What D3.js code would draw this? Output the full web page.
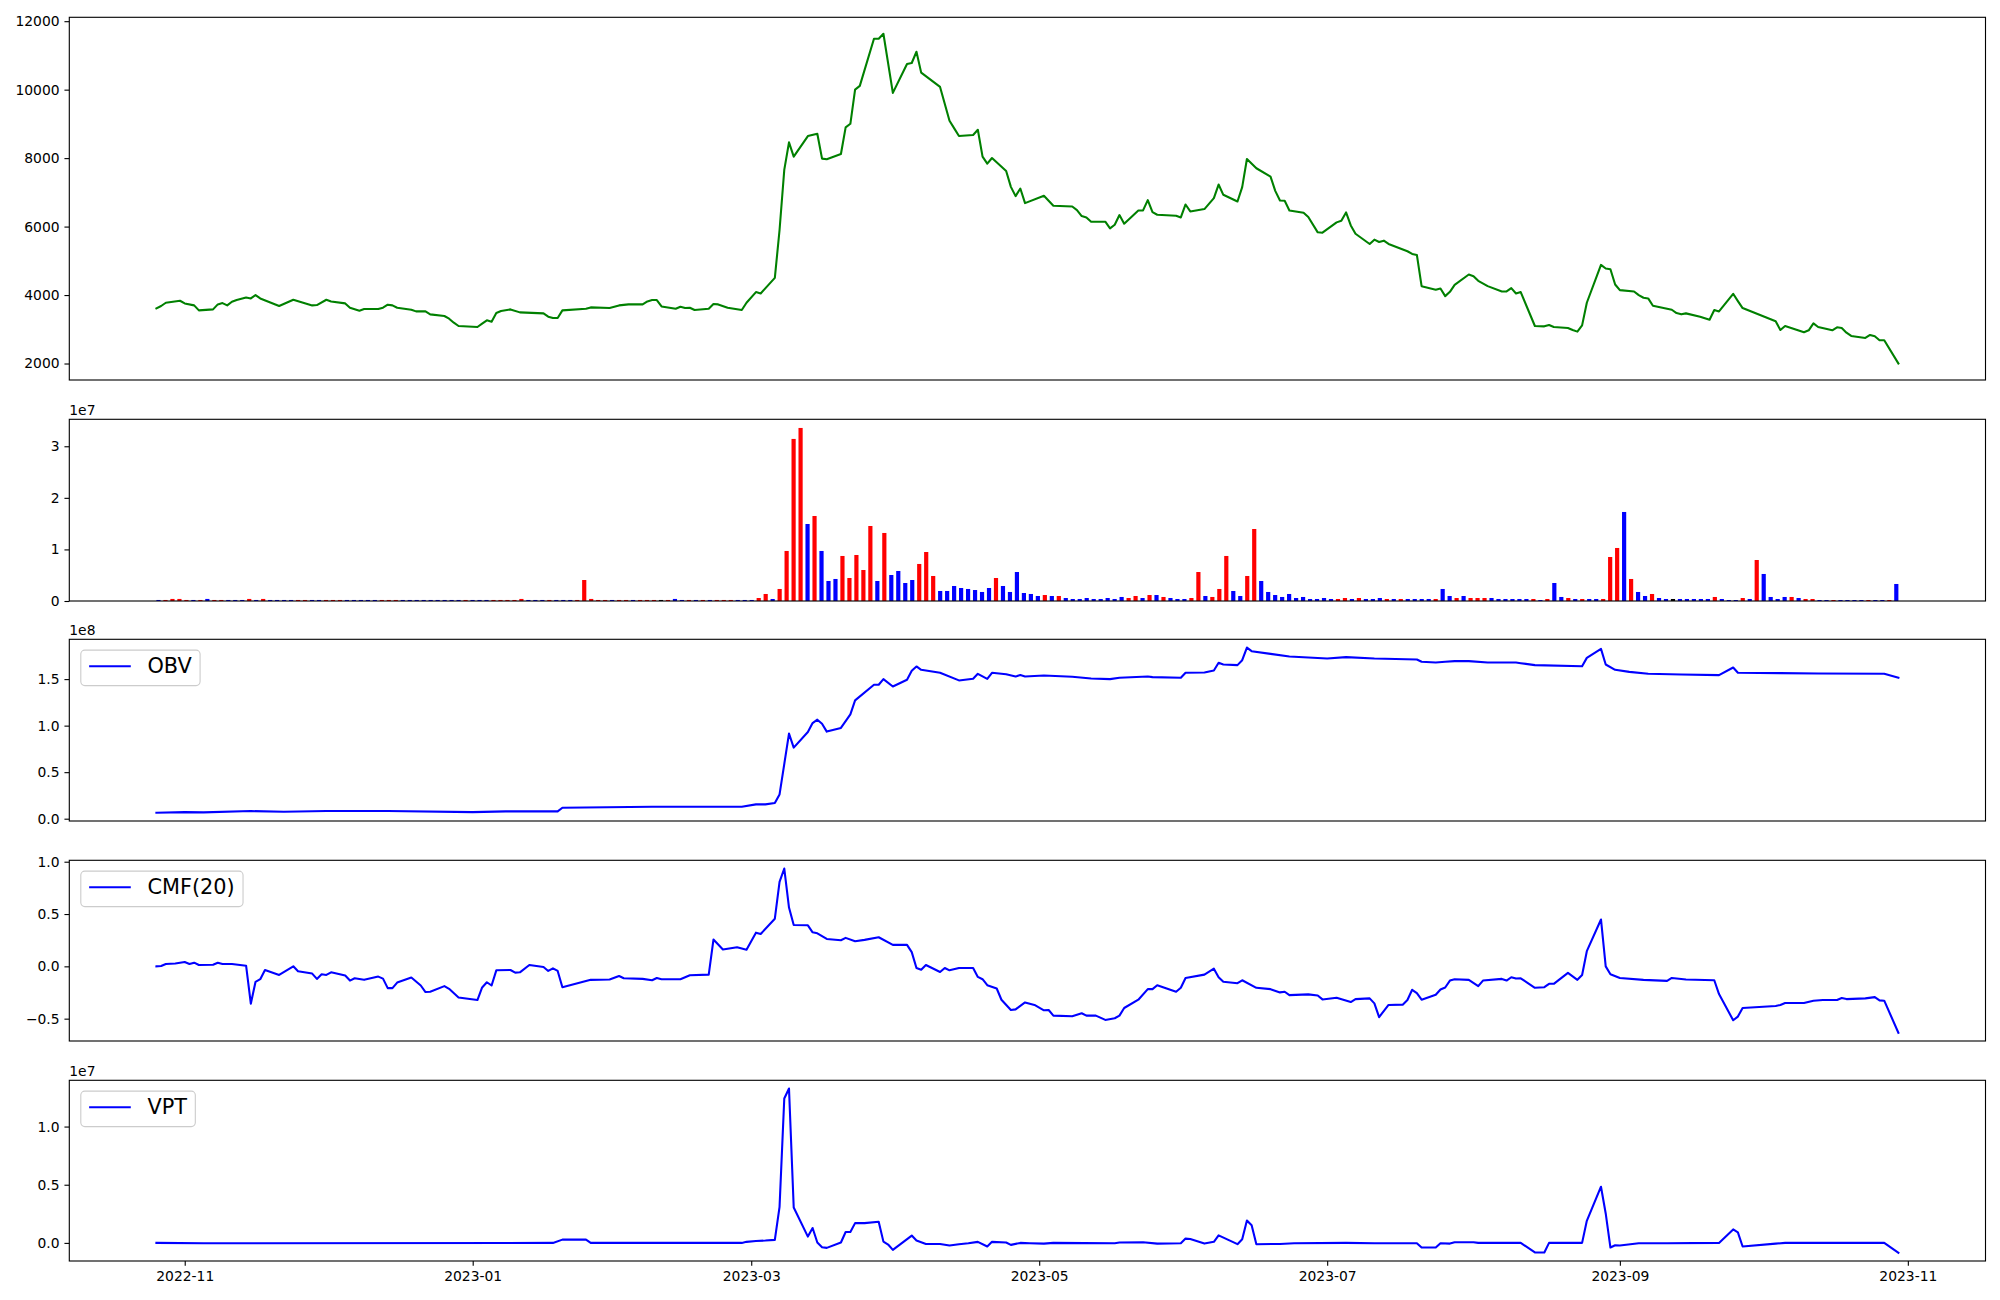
<!DOCTYPE html>
<html><head><meta charset="utf-8">
<script src="https://cdn.jsdelivr.net/npm/d3@7"></script>
<style>html,body{margin:0;padding:0;background:#fff;} svg{display:block;font-family:"DejaVu Sans",sans-serif;}</style>
</head><body><svg id="chart" width="2000" height="1300"></svg>
<script>
// ---------------- DATA ----------------
const priceSeries = [
["2022-10-26",3610],["2022-10-27",3680],["2022-10-28",3775],["2022-10-31",3833],["2022-11-01",3756],["2022-11-03",3698],["2022-11-04",3552],["2022-11-07",3581],["2022-11-08",3727],["2022-11-09",3765],["2022-11-10",3698],["2022-11-11",3804],["2022-11-12",3853],["2022-11-14",3930],["2022-11-15",3901],["2022-11-16",3998],["2022-11-17",3901],["2022-11-21",3678],["2022-11-24",3862],["2022-11-28",3698],["2022-11-29",3707],["2022-12-01",3862],["2022-12-02",3814],["2022-12-05",3756],["2022-12-06",3630],["2022-12-08",3542],["2022-12-09",3591],["2022-12-12",3591],["2022-12-13",3630],["2022-12-14",3717],["2022-12-15",3698],["2022-12-16",3630],["2022-12-19",3571],["2022-12-20",3523],["2022-12-22",3523],["2022-12-23",3436],["2022-12-26",3387],["2022-12-27",3310],["2022-12-28",3193],["2022-12-29",3096],
["2023-01-02",3067],["2023-01-03",3164],["2023-01-04",3261],["2023-01-05",3222],["2023-01-06",3474],["2023-01-07",3533],["2023-01-09",3581],["2023-01-11",3494],["2023-01-16",3465],["2023-01-17",3368],["2023-01-18",3329],["2023-01-19",3329],["2023-01-20",3552],["2023-01-25",3601],["2023-01-26",3639],["2023-01-30",3620],["2023-02-01",3698],["2023-02-03",3727],["2023-02-06",3727],["2023-02-07",3814],["2023-02-08",3853],["2023-02-09",3853],["2023-02-10",3668],["2023-02-13",3601],["2023-02-14",3659],["2023-02-15",3620],["2023-02-16",3630],["2023-02-17",3562],["2023-02-20",3601],["2023-02-21",3736],["2023-02-22",3727],["2023-02-24",3630],["2023-02-27",3562],["2023-02-28",3775],
["2023-03-02",4086],["2023-03-03",4047],["2023-03-06",4503],["2023-03-07",5900],["2023-03-08",7655],["2023-03-09",8460],["2023-03-10",8043],["2023-03-13",8645],["2023-03-15",8712],["2023-03-16",7985],["2023-03-17",7966],["2023-03-20",8121],["2023-03-21",8897],["2023-03-22",9003],["2023-03-23",10003],["2023-03-24",10109],["2023-03-27",11487],["2023-03-28",11487],["2023-03-29",11632],["2023-03-31",9906],
["2023-04-03",10749],["2023-04-04",10779],["2023-04-05",11108],["2023-04-06",10497],["2023-04-10",10080],["2023-04-12",9091],["2023-04-13",8868],["2023-04-14",8645],["2023-04-17",8674],["2023-04-18",8829],["2023-04-19",8043],["2023-04-20",7839],["2023-04-21",8004],["2023-04-24",7626],["2023-04-25",7160],["2023-04-26",6889],["2023-04-27",7112],["2023-04-28",6685],
["2023-05-02",6899],["2023-05-03",6753],["2023-05-04",6608],["2023-05-08",6588],["2023-05-09",6481],["2023-05-10",6307],["2023-05-11",6268],["2023-05-12",6142],["2023-05-15",6142],["2023-05-16",5948],["2023-05-17",6055],["2023-05-18",6336],["2023-05-19",6084],["2023-05-22",6472],["2023-05-23",6472],["2023-05-24",6772],["2023-05-25",6423],["2023-05-26",6346],["2023-05-30",6317],["2023-05-31",6268],
["2023-06-01",6646],["2023-06-02",6443],["2023-06-05",6511],["2023-06-07",6831],["2023-06-08",7228],["2023-06-09",6928],["2023-06-12",6734],["2023-06-13",7151],["2023-06-14",7975],["2023-06-16",7704],["2023-06-19",7461],["2023-06-20",7044],["2023-06-21",6763],["2023-06-22",6753],["2023-06-23",6472],["2023-06-26",6404],["2023-06-27",6278],["2023-06-29",5832],["2023-06-30",5822],
["2023-07-03",6123],["2023-07-04",6171],["2023-07-05",6414],["2023-07-06",6035],["2023-07-07",5790],["2023-07-10",5492],["2023-07-11",5618],["2023-07-12",5550],["2023-07-13",5589],["2023-07-14",5492],["2023-07-18",5279],["2023-07-19",5201],["2023-07-20",5172],["2023-07-21",4260],["2023-07-24",4153],["2023-07-25",4192],["2023-07-26",3969],["2023-07-27",4095],["2023-07-28",4299],["2023-07-31",4600],
["2023-08-01",4551],["2023-08-02",4415],["2023-08-04",4260],["2023-08-07",4105],["2023-08-08",4105],["2023-08-09",4202],["2023-08-10",4047],["2023-08-11",4086],["2023-08-14",3096],["2023-08-16",3086],["2023-08-17",3125],["2023-08-18",3067],["2023-08-21",3038],["2023-08-22",2980],["2023-08-23",2931],["2023-08-24",3115],["2023-08-25",3775],["2023-08-28",4881],["2023-08-29",4774],["2023-08-30",4755],["2023-08-31",4309],
["2023-09-01",4144],["2023-09-04",4105],["2023-09-05",3998],["2023-09-06",3921],["2023-09-07",3901],["2023-09-08",3688],["2023-09-12",3571],["2023-09-13",3474],["2023-09-14",3436],["2023-09-15",3465],["2023-09-18",3368],["2023-09-20",3280],["2023-09-21",3562],["2023-09-22",3523],["2023-09-25",4037],["2023-09-26",3824],["2023-09-27",3620],
["2023-10-04",3232],["2023-10-05",2980],["2023-10-06",3096],["2023-10-10",2912],["2023-10-11",2970],["2023-10-12",3174],["2023-10-13",3067],["2023-10-16",2970],["2023-10-17",3057],["2023-10-18",3038],["2023-10-19",2902],["2023-10-20",2805],["2023-10-23",2747],["2023-10-24",2834],["2023-10-25",2795],["2023-10-26",2679],["2023-10-27",2679],["2023-10-30",2000]
];

// daily volume bars (millions), one per trading session, in order
const volumeM = [
0.2,0.2,0.4,0.4,0.2,0.2,0.2,0.4,0.2,0.2,
0.2,0.2,0.2,0.4,0.2,0.4,0.2,0.2,0.2,0.2,
0.2,0.2,0.2,0.2,0.2,0.2,0.2,0.2,0.2,0.2,
0.2,0.2,0.2,0.2,0.2,0.2,0.2,0.2,0.2,0.2,
0.2,0.2,0.2,0.2,0.2,0.2,0.2,0.2,0.2,0.2,
0.2,0.2,0.4,0.2,0.2,0.2,0.2,0.2,0.2,0.2,
0.2,4.07,0.4,0.2,0.2,0.2,0.2,0.2,0.2,0.2,
0.2,0.2,0.2,0.2,0.4,0.2,0.2,0.2,0.2,0.2,
0.2,0.2,0.2,0.2,0.2,0.2,0.58,1.36,0.39,2.33,
9.70,31.42,33.55,14.93,16.48,9.70,3.88,4.27,8.73,4.46,
8.92,6.01,14.54,3.88,13.19,5.04,5.82,3.49,4.07,7.18,
9.50,4.85,1.94,1.94,2.91,2.52,2.33,2.13,1.75,2.52,
4.46,2.91,1.75,5.62,1.55,1.36,0.97,1.16,0.97,0.97,
0.58,0.39,0.39,0.58,0.39,0.39,0.58,0.39,0.78,0.58,
0.97,0.58,1.16,1.16,0.78,0.58,0.39,0.39,0.58,5.62,
0.97,0.78,2.33,8.73,1.94,0.97,4.85,13.96,3.88,1.75,
1.16,0.78,1.36,0.58,0.78,0.39,0.39,0.58,0.39,0.39,
0.58,0.39,0.58,0.39,0.39,0.58,0.39,0.39,0.39,0.39,
0.39,0.39,0.39,0.39,2.33,0.97,0.58,0.97,0.58,0.58,
0.58,0.58,0.39,0.39,0.39,0.39,0.39,0.39,0.19,0.39,
3.49,0.78,0.58,0.39,0.39,0.39,0.39,0.39,8.53,10.28,
17.26,4.27,1.75,0.97,1.36,0.58,0.39,0.39,0.39,0.39,
0.39,0.39,0.39,0.78,0.39,0.19,0.19,0.58,0.39,7.95,
5.24,0.78,0.39,0.78,0.78,0.58,0.39,0.39,0.19,0.19,
0.19,0.19,0.19,0.19,0.19,0.19,0.19,0.19,0.19,3.30
];
// 1 = up (red), -1 = down (blue), 0 = unchanged (black)
const volumeDir = [
-1,1,1,1,1,-1,1,-1,1,1,
-1,-1,-1,1,-1,1,-1,-1,-1,-1,
1,1,-1,-1,1,1,1,-1,-1,-1,
-1,-1,1,1,1,-1,-1,-1,-1,-1,
-1,-1,-1,-1,1,-1,-1,-1,1,1,
1,1,1,-1,-1,-1,1,-1,-1,-1,
1,1,1,1,1,-1,1,1,-1,1,
1,1,0,1,-1,-1,1,-1,1,-1,
1,1,1,-1,-1,-1,1,1,-1,1,
1,1,1,-1,1,-1,-1,-1,1,1,
1,1,1,-1,1,-1,-1,-1,-1,1,
1,1,-1,-1,-1,-1,-1,-1,-1,-1,
1,-1,-1,-1,-1,-1,-1,1,-1,1,
-1,-1,-1,-1,-1,-1,-1,-1,-1,1,
1,-1,1,-1,1,-1,-1,-1,1,1,
-1,1,1,1,-1,-1,1,1,-1,-1,
-1,-1,-1,-1,-1,-1,-1,-1,-1,1,
1,-1,1,-1,-1,-1,1,-1,1,-1,
-1,-1,-1,1,-1,-1,1,-1,1,1,
1,-1,-1,-1,-1,-1,-1,1,-1,1,
-1,-1,1,-1,1,-1,-1,1,1,1,
-1,1,-1,-1,1,-1,-1,0,-1,-1,
-1,-1,-1,1,-1,-1,-1,1,-1,1,
-1,-1,-1,-1,1,-1,1,1,-1,-1,
1,-1,-1,-1,-1,1,-1,-1,1,-1
];

// OBV (millions)
const obvSeries = [
["2022-10-26",6.4],["2022-11-01",7.1],["2022-11-05",6.8],["2022-11-15",8.2],["2022-11-22",7.5],["2022-12-01",8.2],["2022-12-14",8.2],["2023-01-01",7.1],["2023-01-08",7.9],["2023-01-19",7.9],["2023-01-20",11.8],["2023-02-08",12.9],["2023-02-27",12.9],["2023-03-02",15.4],["2023-03-04",15.4],["2023-03-06",16.8],["2023-03-07",26.1],["2023-03-09",91.4],["2023-03-10",76.4],["2023-03-13",93.2],["2023-03-14",102.8],["2023-03-15",106.4],["2023-03-16",102.1],["2023-03-17",93.6],["2023-03-20",97.5],["2023-03-22",112.1],["2023-03-23",127.1],["2023-03-27",143.9],["2023-03-28",143.9],["2023-03-29",150.0],["2023-03-31",142.1],
["2023-04-03",149.3],["2023-04-04",158.9],["2023-04-05",163.6],["2023-04-06",160.0],["2023-04-10",156.8],["2023-04-14",148.6],["2023-04-17",150.3],["2023-04-18",155.7],["2023-04-20",150.3],["2023-04-21",156.8],["2023-04-24",155.3],["2023-04-26",152.8],["2023-04-27",154.3],["2023-04-28",152.8],["2023-05-02",153.9],["2023-05-08",152.5],["2023-05-12",150.7],["2023-05-16",150.0],["2023-05-18",151.4],["2023-05-24",152.8],["2023-05-25",152.1],["2023-05-31",151.4],
["2023-06-01",156.8],["2023-06-05",157.1],["2023-06-07",159.3],["2023-06-08",167.5],["2023-06-09",165.7],["2023-06-12",165.0],["2023-06-13",170.3],["2023-06-14",183.9],["2023-06-15",180.0],["2023-06-19",177.1],["2023-06-23",174.3],["2023-07-01",172.1],["2023-07-05",173.6],["2023-07-11",172.1],["2023-07-20",171.1],["2023-07-21",168.6],["2023-07-24",167.8],["2023-07-26",168.6],["2023-07-28",169.3],["2023-07-31",169.3],
["2023-08-04",167.8],["2023-08-10",167.8],["2023-08-11",167.1],["2023-08-14",165.0],["2023-08-24",163.9],["2023-08-25",172.8],["2023-08-28",182.5],["2023-08-29",165.7],["2023-08-31",160.0],["2023-09-03",157.8],["2023-09-07",155.7],["2023-09-14",155.0],["2023-09-22",154.3],["2023-09-25",162.5],["2023-09-26",156.8],["2023-10-05",156.4],["2023-10-13",156.1],["2023-10-27",155.7],["2023-10-30",151.4]
];

// CMF(20)
const cmfSeries = [
["2022-10-26",0.0],["2022-10-27",0.003],["2022-10-28",0.022],["2022-10-30",0.028],["2022-11-01",0.041],["2022-11-02",0.022],["2022-11-03",0.035],["2022-11-04",0.013],["2022-11-07",0.016],["2022-11-08",0.035],["2022-11-09",0.022],["2022-11-11",0.022],["2022-11-14",0.006],["2022-11-15",-0.357],["2022-11-16",-0.148],["2022-11-17",-0.123],["2022-11-18",-0.035],["2022-11-21",-0.082],["2022-11-24",0.0],["2022-11-25",-0.047],["2022-11-28",-0.069],["2022-11-29",-0.120],["2022-11-30",-0.076],["2022-12-01",-0.082],["2022-12-02",-0.057],["2022-12-05",-0.088],["2022-12-06",-0.136],["2022-12-07",-0.114],["2022-12-09",-0.129],["2022-12-12",-0.098],["2022-12-13",-0.117],["2022-12-14",-0.208],["2022-12-15",-0.208],["2022-12-16",-0.155],["2022-12-19",-0.107],["2022-12-21",-0.183],["2022-12-22",-0.246],["2022-12-23",-0.243],["2022-12-26",-0.189],["2022-12-27",-0.215],["2022-12-29",-0.297],
["2023-01-02",-0.322],["2023-01-03",-0.202],["2023-01-04",-0.152],["2023-01-05",-0.183],["2023-01-06",-0.038],["2023-01-09",-0.035],["2023-01-10",-0.060],["2023-01-11",-0.057],["2023-01-13",0.013],["2023-01-16",-0.006],["2023-01-17",-0.044],["2023-01-18",-0.019],["2023-01-19",-0.044],["2023-01-20",-0.199],["2023-01-26",-0.129],["2023-01-30",-0.126],["2023-02-01",-0.092],["2023-02-02",-0.114],["2023-02-06",-0.120],["2023-02-08",-0.133],["2023-02-09",-0.111],["2023-02-10",-0.123],["2023-02-14",-0.123],["2023-02-16",-0.085],["2023-02-20",-0.079],["2023-02-21",0.256],["2023-02-23",0.161],["2023-02-26",0.183],["2023-02-28",0.158],
["2023-03-02",0.322],["2023-03-03",0.309],["2023-03-06",0.455],["2023-03-07",0.808],["2023-03-08",0.935],["2023-03-09",0.562],["2023-03-10",0.395],["2023-03-13",0.392],["2023-03-14",0.325],["2023-03-15",0.316],["2023-03-17",0.262],["2023-03-20",0.249],["2023-03-21",0.272],["2023-03-23",0.240],["2023-03-25",0.253],["2023-03-28",0.278],["2023-03-31",0.205],
["2023-04-03",0.205],["2023-04-04",0.136],["2023-04-05",-0.016],["2023-04-06",-0.032],["2023-04-07",0.013],["2023-04-10",-0.054],["2023-04-11",-0.016],["2023-04-12",-0.038],["2023-04-14",-0.016],["2023-04-17",-0.016],["2023-04-18",-0.101],["2023-04-19",-0.123],["2023-04-20",-0.180],["2023-04-22",-0.212],["2023-04-23",-0.319],["2023-04-25",-0.417],["2023-04-26",-0.411],["2023-04-28",-0.345],["2023-04-30",-0.369],
["2023-05-02",-0.420],["2023-05-03",-0.417],["2023-05-04",-0.471],["2023-05-08",-0.477],["2023-05-10",-0.448],["2023-05-11",-0.471],["2023-05-13",-0.471],["2023-05-15",-0.512],["2023-05-17",-0.496],["2023-05-18",-0.471],["2023-05-19",-0.398],["2023-05-22",-0.319],["2023-05-24",-0.218],["2023-05-25",-0.218],["2023-05-26",-0.180],["2023-05-30",-0.243],["2023-05-31",-0.205],
["2023-06-01",-0.111],["2023-06-05",-0.079],["2023-06-07",-0.022],["2023-06-08",-0.104],["2023-06-09",-0.148],["2023-06-12",-0.161],["2023-06-13",-0.133],["2023-06-16",-0.205],["2023-06-19",-0.218],["2023-06-21",-0.249],["2023-06-22",-0.243],["2023-06-23",-0.275],["2023-06-27",-0.268],["2023-06-29",-0.278],["2023-06-30",-0.316],
["2023-07-03",-0.300],["2023-07-06",-0.341],["2023-07-07",-0.313],["2023-07-10",-0.306],["2023-07-11",-0.354],["2023-07-12",-0.486],["2023-07-14",-0.369],["2023-07-17",-0.366],["2023-07-18",-0.322],["2023-07-19",-0.224],["2023-07-20",-0.256],["2023-07-21",-0.319],["2023-07-24",-0.272],["2023-07-25",-0.221],["2023-07-26",-0.202],["2023-07-27",-0.136],["2023-07-28",-0.123],["2023-07-31",-0.129],
["2023-08-02",-0.189],["2023-08-03",-0.136],["2023-08-07",-0.120],["2023-08-08",-0.136],["2023-08-09",-0.104],["2023-08-10",-0.117],["2023-08-11",-0.114],["2023-08-14",-0.205],["2023-08-16",-0.199],["2023-08-17",-0.167],["2023-08-18",-0.167],["2023-08-21",-0.063],["2023-08-23",-0.129],["2023-08-24",-0.082],["2023-08-25",0.145],["2023-08-28",0.448],["2023-08-29",0.0],["2023-08-30",-0.076],
["2023-09-01",-0.111],["2023-09-06",-0.129],["2023-09-11",-0.139],["2023-09-12",-0.111],["2023-09-15",-0.126],["2023-09-21",-0.133],["2023-09-22",-0.265],["2023-09-25",-0.515],["2023-09-26",-0.480],["2023-09-27",-0.398],
["2023-10-04",-0.379],["2023-10-05",-0.369],["2023-10-06",-0.351],["2023-10-10",-0.351],["2023-10-12",-0.328],["2023-10-14",-0.322],["2023-10-17",-0.322],["2023-10-18",-0.303],["2023-10-19",-0.313],["2023-10-23",-0.306],["2023-10-25",-0.294],["2023-10-26",-0.325],["2023-10-27",-0.328],["2023-10-30",-0.635]
];

// VPT (millions)
const vptSeries = [
["2022-10-26",0.0],["2022-11-05",-0.03],["2023-01-18",0.0],["2023-01-20",0.28],["2023-01-25",0.28],["2023-01-26",0.0],["2023-02-27",0.0],["2023-02-28",0.09],["2023-03-02",0.17],["2023-03-04",0.20],["2023-03-06",0.26],["2023-03-07",3.10],["2023-03-08",12.41],["2023-03-09",13.27],["2023-03-10",3.04],["2023-03-13",0.54],["2023-03-14",1.28],["2023-03-15",0.03],["2023-03-16",-0.37],["2023-03-17",-0.43],["2023-03-20",0.03],["2023-03-21",0.94],["2023-03-22",0.94],["2023-03-23",1.70],["2023-03-25",1.70],["2023-03-28",1.82],["2023-03-29",0.11],["2023-03-30",-0.14],["2023-03-31",-0.60],
["2023-04-04",0.63],["2023-04-05",0.20],["2023-04-07",-0.09],["2023-04-10",-0.09],["2023-04-12",-0.23],["2023-04-14",-0.11],["2023-04-16",-0.03],["2023-04-18",0.09],["2023-04-20",-0.31],["2023-04-21",0.09],["2023-04-24",0.03],["2023-04-25",-0.17],["2023-04-27",0.0],["2023-04-29",-0.03],
["2023-05-02",-0.06],["2023-05-04",0.0],["2023-05-17",-0.03],["2023-05-18",0.03],["2023-05-23",0.06],["2023-05-26",-0.06],["2023-05-31",-0.03],["2023-06-01",0.37],["2023-06-02",0.34],["2023-06-05",-0.06],["2023-06-07",0.09],["2023-06-08",0.65],["2023-06-12",-0.11],["2023-06-13",0.31],["2023-06-14",1.93],["2023-06-15",1.51],["2023-06-16",-0.11],["2023-06-21",-0.09],["2023-06-24",-0.03],
["2023-07-05",0.0],["2023-07-11",-0.03],["2023-07-20",-0.03],["2023-07-21",-0.40],["2023-07-24",-0.40],["2023-07-25",-0.03],["2023-07-27",-0.06],["2023-07-28",0.06],["2023-08-01",0.06],["2023-08-02",0.0],["2023-08-11",0.0],["2023-08-14",-0.82],["2023-08-16",-0.82],["2023-08-17",0.0],["2023-08-24",0.0],["2023-08-25",1.90],["2023-08-28",4.83],["2023-08-29",2.53],["2023-08-30",-0.40],["2023-08-31",-0.20],
["2023-09-01",-0.23],["2023-09-05",-0.03],["2023-09-11",-0.03],["2023-09-22",0.0],["2023-09-25",1.16],["2023-09-26",0.91],["2023-09-27",-0.31],["2023-10-04",-0.06],["2023-10-06",0.0],["2023-10-12",0.0],["2023-10-27",0.0],["2023-10-30",-0.85]
];

const xTickDates  = ["2022-11-01","2023-01-01","2023-03-01","2023-05-01","2023-07-01","2023-09-01","2023-11-01"];
const xTickLabels = ["2022-11","2023-01","2023-03","2023-05","2023-07","2023-09","2023-11"];
const priceTicks = [2000,4000,6000,8000,10000,12000];
const volumeTicks = [0,10,20,30];        // millions -> 0,1,2,3 (x1e7)
const obvTicks = [0,50,100,150];         // millions -> 0.0..1.5 (x1e8)
const cmfTicks = [-0.5,0,0.5,1.0];
const vptTicks = [0,5,10];               // millions -> 0.0..1.0 (x1e7)

// ---------------- LAYOUT ----------------
const svg = d3.select("#chart");
const L = 69.3, R = 1985.5;
const panels = [
  {top:17.3, bottom:380},
  {top:419.3, bottom:601},
  {top:639.3, bottom:821},
  {top:860.3, bottom:1041},
  {top:1080.3, bottom:1261}
];
const FS = 13.89, LEGFS = 20.83, TICK = 4.86, PAD = 4.86, LW = 2.08;
const parse = d3.utcParse("%Y-%m-%d");
const minus = s => s.replace("-", "\u2212");

function pad5(ext){ const r = ext[1]-ext[0]; return [ext[0]-0.05*r, ext[1]+0.05*r]; }

// shared time x-scale for line panels
const allDates = [].concat(priceSeries, obvSeries, cmfSeries, vptSeries).map(d => parse(d[0]).getTime());
const dExt = d3.extent(allDates);
const dPad = pad5(dExt);
const x = d3.scaleUtc().domain([new Date(dPad[0]), new Date(dPad[1])]).range([L, R]);

// index x-scale for volume bars
const BW = 0.6;
const iLo = -BW/2, iHi = volumeM.length - 1 + BW/2;
const xi = d3.scaleLinear().domain(pad5([iLo, iHi])).range([L, R]);

function yAxis(g, scale, ticks, fmt){
  const ax = d3.axisLeft(scale).tickValues(ticks).tickFormat(fmt).tickSize(TICK).tickPadding(PAD);
  g.call(ax);
  g.select(".domain").remove();
  g.selectAll(".tick line").attr("stroke", "#000").attr("stroke-width", 1.11);
  g.selectAll(".tick text").attr("font-size", FS).attr("font-family", "DejaVu Sans").attr("fill", "#000");
}
function frame(p){
  svg.append("rect").attr("x", L).attr("y", p.top).attr("width", R-L).attr("height", p.bottom-p.top)
    .attr("fill", "none").attr("stroke", "#000").attr("stroke-width", 1.11);
}
function offsetText(p, txt){
  svg.append("text").attr("x", L).attr("y", p.top - 4.3).attr("font-size", FS).attr("fill", "#000").text(txt);
}
function legend(p, label){
  const g = svg.append("g");
  const bx = L + 11.5, by = p.top + 10.8, bp = 0.4*LEGFS;
  const rect = g.append("rect");
  g.append("line").attr("x1", bx + bp).attr("x2", bx + bp + 2*LEGFS)
    .attr("y1", by + 16.2).attr("y2", by + 16.2).attr("stroke", "blue").attr("stroke-width", LW);
  const t = g.append("text").attr("x", bx + bp + 2.8*LEGFS).attr("y", by + 23.3)
    .attr("font-size", LEGFS).attr("fill", "#000").text(label);
  const tw = t.node().getComputedTextLength();
  rect.attr("x", bx).attr("y", by).attr("width", bp + 2.8*LEGFS + tw + bp).attr("height", 35.5)
    .attr("rx", 4).attr("fill", "#fff").attr("fill-opacity", 0.8).attr("stroke", "#cccccc").attr("stroke-width", 1.11);
}
function linePanel(p, data, color, ticks, fmt){
  const y = d3.scaleLinear().domain(pad5(d3.extent(data, d => d[1]))).range([p.bottom, p.top]);
  svg.append("path").datum(data)
    .attr("d", d3.line().x(d => x(parse(d[0]))).y(d => y(d[1])))
    .attr("fill", "none").attr("stroke", color).attr("stroke-width", LW)
    .attr("stroke-linejoin", "round").attr("stroke-linecap", "square");
  yAxis(svg.append("g").attr("transform", `translate(${L},0)`), y, ticks, fmt);
  return y;
}

// Panel 1: price
linePanel(panels[0], priceSeries, "green", priceTicks, d => String(d));
frame(panels[0]);

// Panel 2: volume bars
{
  const p = panels[1];
  const y = d3.scaleLinear().domain([0, d3.max(volumeM)*1.05]).range([p.bottom, p.top]);
  const col = v => v > 0 ? "red" : (v < 0 ? "blue" : "black");
  const bw = xi(BW) - xi(0);
  svg.append("g").selectAll("rect").data(volumeM).join("rect")
    .attr("x", (d,i) => xi(i) - bw/2).attr("width", bw)
    .attr("y", d => y(d)).attr("height", d => y(0) - y(d))
    .attr("fill", (d,i) => col(volumeDir[i]));
  yAxis(svg.append("g").attr("transform", `translate(${L},0)`), y, volumeTicks, d => String(d/10));
  frame(p);
  offsetText(p, "1e7");
}

// Panel 3: OBV
linePanel(panels[2], obvSeries, "blue", obvTicks, d => (d/100).toFixed(1));
frame(panels[2]); offsetText(panels[2], "1e8"); legend(panels[2], "OBV");

// Panel 4: CMF
linePanel(panels[3], cmfSeries, "blue", cmfTicks, d => minus(d.toFixed(1)));
frame(panels[3]); legend(panels[3], "CMF(20)");

// Panel 5: VPT
linePanel(panels[4], vptSeries, "blue", vptTicks, d => (d/10).toFixed(1));
frame(panels[4]); offsetText(panels[4], "1e7"); legend(panels[4], "VPT");

// bottom x-axis
{
  const g = svg.append("g").attr("transform", `translate(0,${panels[4].bottom})`);
  const ticks = xTickDates.map(parse);
  g.call(d3.axisBottom(x).tickValues(ticks).tickFormat((d,i) => xTickLabels[i]).tickSize(TICK).tickPadding(PAD));
  g.select(".domain").remove();
  g.selectAll(".tick line").attr("stroke", "#000").attr("stroke-width", 1.11);
  g.selectAll(".tick text").attr("font-size", FS).attr("font-family", "DejaVu Sans").attr("fill", "#000");
}
</script></body></html>
